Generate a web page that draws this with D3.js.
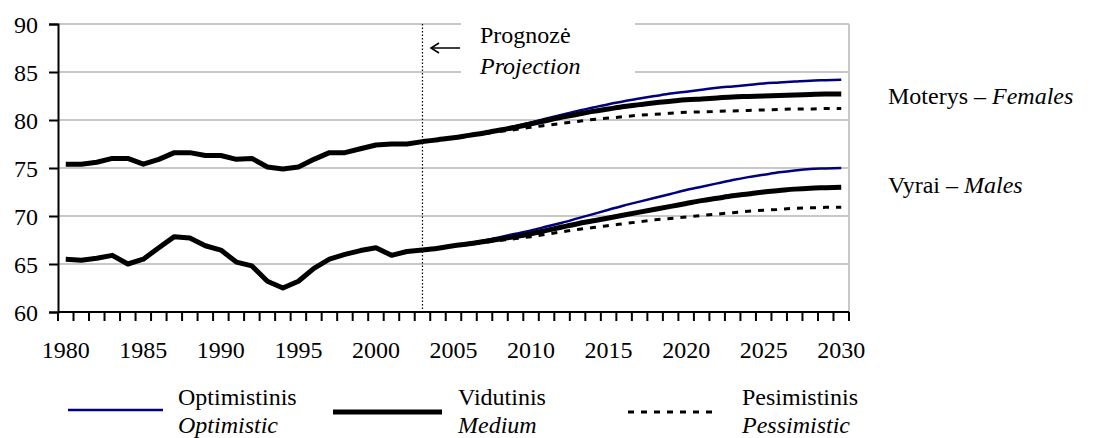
<!DOCTYPE html>
<html>
<head>
<meta charset="UTF-8">
<title></title>
<style>
  body { margin: 0; background: #fff; }
  svg text { font-family: "Liberation Serif", Tinos, "Times New Roman", "Noto Serif", "DejaVu Serif", FreeSerif, "Nimbus Roman", serif; font-size: 24px; fill: #000; }
  .grid line { stroke: #c8c8c8; stroke-width: 2; }
  .axis path, .axis line { stroke: #000; stroke-width: 2; }
  .it { font-style: italic; }
</style>
</head>
<body>
<script src="https://cdnjs.cloudflare.com/ajax/libs/d3/7.8.5/d3.min.js"></script>
<script>
/// data

var years = [1980, 1981, 1982, 1983, 1984, 1985, 1986, 1987, 1988, 1989, 1990,
  1991, 1992, 1993, 1994, 1995, 1996, 1997, 1998, 1999, 2000,
  2001, 2002, 2003, 2004, 2005, 2006, 2007, 2008, 2009, 2010,
  2011, 2012, 2013, 2014, 2015, 2016, 2017, 2018, 2019, 2020,
  2021, 2022, 2023, 2024, 2025, 2026, 2027, 2028, 2029, 2030];
var tickYears = [1980, 1985, 1990, 1995, 2000, 2005, 2010, 2015, 2020, 2025, 2030];
var yTicks = [60, 65, 70, 75, 80, 85, 90];

// actual 1980-2003
var histYears = years.slice(0, 24);
var femalesHist = [75.4, 75.4, 75.6, 76.0, 76.0, 75.4, 75.9, 76.6, 76.6, 76.3, 76.3,
  75.9, 76.0, 75.1, 74.9, 75.1, 75.9, 76.6, 76.6, 77.0, 77.4, 77.5, 77.5, 77.75];
var malesHist = [65.5, 65.4, 65.6, 65.9, 65.0, 65.5, 66.7, 67.85, 67.7, 66.9, 66.45,
  65.2, 64.8, 63.2, 62.5, 63.2, 64.55, 65.5, 66.0, 66.4, 66.7, 65.9, 66.3, 66.45];

// projection 2003-2030
var projYears = years.slice(23);
var femalesOpt = [77.75, 77.95, 78.15, 78.4, 78.7, 79.0, 79.35, 79.75, 80.15, 80.55, 80.95,
  81.3, 81.65, 81.95, 82.25, 82.5, 82.75, 82.95, 83.15, 83.35, 83.5, 83.65, 83.8,
  83.9, 84.0, 84.1, 84.15, 84.2];
var femalesMed = [77.75, 77.95, 78.15, 78.4, 78.65, 78.95, 79.25, 79.6, 79.95, 80.3, 80.6,
  80.9, 81.15, 81.4, 81.6, 81.8, 81.95, 82.1, 82.2, 82.3, 82.4, 82.45, 82.5,
  82.55, 82.6, 82.65, 82.7, 82.7];
var femalesPes = [77.75, 77.95, 78.15, 78.4, 78.6, 78.8, 79.0, 79.25, 79.45, 79.65, 79.85,
  80.05, 80.2, 80.35, 80.5, 80.6, 80.7, 80.8, 80.85, 80.9, 80.95, 81.0, 81.05,
  81.1, 81.15, 81.15, 81.2, 81.2];
var malesOpt = [66.45, 66.65, 66.9, 67.15, 67.45, 67.8, 68.15, 68.5, 68.9, 69.3, 69.75,
  70.2, 70.65, 71.1, 71.5, 71.9, 72.3, 72.7, 73.05, 73.4, 73.75, 74.05, 74.3,
  74.55, 74.75, 74.9, 74.95, 75.0];
var malesMed = [66.45, 66.65, 66.9, 67.1, 67.35, 67.6, 67.85, 68.15, 68.5, 68.85, 69.2,
  69.5, 69.8, 70.1, 70.4, 70.7, 71.0, 71.3, 71.6, 71.85, 72.1, 72.3, 72.5,
  72.65, 72.8, 72.9, 72.95, 73.0];
var malesPes = [66.45, 66.65, 66.9, 67.05, 67.25, 67.45, 67.65, 67.85, 68.1, 68.35, 68.6,
  68.8, 69.0, 69.2, 69.4, 69.6, 69.75, 69.9, 70.05, 70.2, 70.35, 70.5, 70.6,
  70.7, 70.8, 70.85, 70.9, 70.9];

var scenarios = [
  {lt: "Optimistinis", en: "Optimistic", color: "#000080", width: 2.5, dash: null},
  {lt: "Vidutinis", en: "Medium", color: "#000", width: 5, dash: null},
  {lt: "Pesimistinis", en: "Pessimistic", color: "#000", width: 3, dash: "6,7"}
];

/// layout

var W = 1095, H = 438;
var plotL = 58, plotR = 849, plotT = 24, plotB = 312;

var svg = d3.select("body").append("svg")
    .attr("width", W)
    .attr("height", H);

var x = d3.scaleBand().domain(years).range([plotL, plotR]);
var cx = function(yr) { return x(yr) + x.bandwidth() / 2; };
var y = d3.scaleLinear().domain([60, 90]).range([plotB, plotT]);

// grid
svg.append("g").attr("class", "grid")
  .selectAll("line")
  .data(yTicks.slice(1))
  .enter().append("line")
    .attr("x1", plotL).attr("x2", plotR)
    .attr("y1", function(d) { return y(d); })
    .attr("y2", function(d) { return y(d); });
svg.append("line")
    .attr("x1", plotR).attr("x2", plotR)
    .attr("y1", plotT).attr("y2", plotB)
    .attr("stroke", "#c8c8c8").attr("stroke-width", 2);

// projection start marker
var projX = cx(2003);
svg.append("line")
    .attr("x1", projX).attr("x2", projX)
    .attr("y1", plotT).attr("y2", plotB)
    .attr("stroke", "#000").attr("stroke-width", 1.2)
    .attr("stroke-dasharray", "1.5,2");

var note = svg.append("g");
note.append("rect")
    .attr("x", 461).attr("y", 17)
    .attr("width", 174).attr("height", 62)
    .attr("fill", "#fff");
note.append("line")
    .attr("x1", 432).attr("x2", 460)
    .attr("y1", 48).attr("y2", 48)
    .attr("stroke", "#000").attr("stroke-width", 1.5);
note.append("path")
    .attr("d", "M439,43 L431,48 L439,53")
    .attr("fill", "none").attr("stroke", "#000").attr("stroke-width", 1.5);
note.append("text").attr("x", 480).attr("y", 43).text("Prognozė");
note.append("text").attr("x", 480).attr("y", 74).attr("class", "it").text("Projection");

// axes
var yAxis = svg.append("g").attr("class", "axis")
    .attr("transform", "translate(" + plotL + ",0)")
    .call(d3.axisLeft(y).tickValues(yTicks).tickSize(9).tickPadding(11));
yAxis.selectAll("text").attr("dy", "0.34em");

var xAxis = svg.append("g").attr("class", "axis")
    .attr("transform", "translate(0," + plotB + ")")
    .call(d3.axisBottom(x).tickValues(tickYears).tickSize(0).tickPadding(29));
xAxis.selectAll("text").attr("dy", "0.71em");
xAxis.select(".domain").attr("d", "M" + plotL + ",0H" + plotR);

// tick marks between categories
var edges = years.map(function(yr) { return x(yr); }).concat([plotR]);
xAxis.selectAll(".edge")
  .data(edges)
  .enter().append("line")
    .attr("class", "edge")
    .attr("x1", function(d) { return d; })
    .attr("x2", function(d) { return d; })
    .attr("y1", 0).attr("y2", 9)
    .attr("stroke", "#000").attr("stroke-width", 2);

// lines
var line = d3.line()
    .x(function(d) { return cx(d[0]); })
    .y(function(d) { return y(d[1]); })
    .curve(d3.curveMonotoneX);

function pairs(xs, vs) { return xs.map(function(v, i) { return [v, vs[i]]; }); }

var proj = [
  [femalesOpt, malesOpt],
  [femalesMed, malesMed],
  [femalesPes, malesPes]
];
scenarios.forEach(function(s, k) {
  proj[k].forEach(function(series) {
    svg.append("path")
      .attr("d", line(pairs(projYears, series)))
      .attr("fill", "none")
      .attr("stroke", s.color)
      .attr("stroke-width", s.width)
      .attr("stroke-dasharray", s.dash)
      .attr("stroke-linejoin", "round");
  });
});

var histLine = d3.line()
    .x(function(d) { return cx(d[0]); })
    .y(function(d) { return y(d[1]); });
[femalesHist, malesHist].forEach(function(series) {
  svg.append("path")
    .attr("d", histLine(pairs(histYears, series)))
    .attr("fill", "none")
    .attr("stroke", "#000")
    .attr("stroke-width", 5)
    .attr("stroke-linejoin", "round");
});

// series labels
var fem = svg.append("text").attr("x", 888).attr("y", 104);
fem.append("tspan").text("Moterys – ");
fem.append("tspan").attr("class", "it").text("Females");
var mal = svg.append("text").attr("x", 888).attr("y", 193);
mal.append("tspan").text("Vyrai – ");
mal.append("tspan").attr("class", "it").text("Males");

// legend
var legendPos = [
  {x1: 68, x2: 163, ly: 410, tx: 178},
  {x1: 333, x2: 442, ly: 412, tx: 458},
  {x1: 628, x2: 715, ly: 412, tx: 742}
];
var legend = svg.append("g").attr("class", "legend");
scenarios.forEach(function(s, i) {
  var p = legendPos[i];
  legend.append("line")
    .attr("x1", p.x1).attr("x2", p.x2)
    .attr("y1", p.ly).attr("y2", p.ly)
    .attr("stroke", s.color)
    .attr("stroke-width", s.width)
    .attr("stroke-dasharray", s.dash);
  legend.append("text").attr("x", p.tx).attr("y", 405).text(s.lt);
  legend.append("text").attr("x", p.tx).attr("y", 433).attr("class", "it").text(s.en);
});
</script>
</body>
</html>
